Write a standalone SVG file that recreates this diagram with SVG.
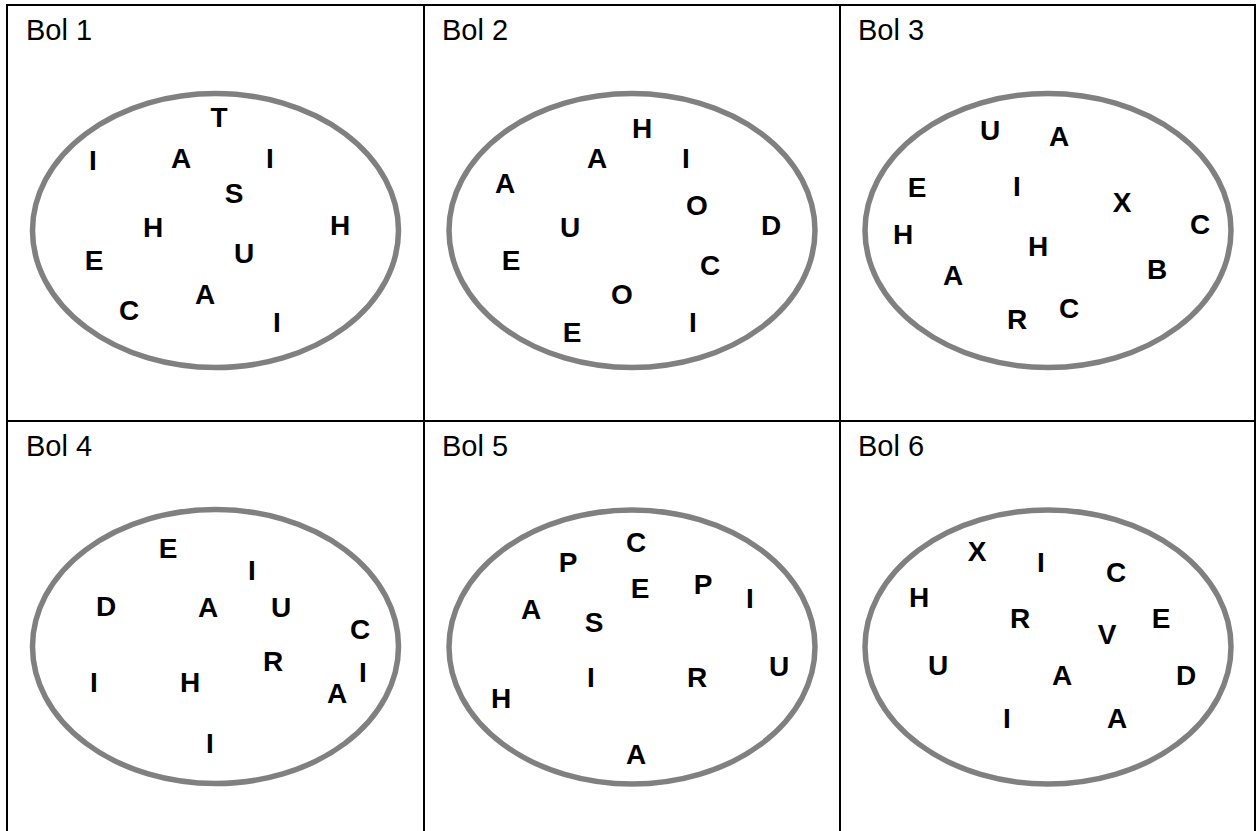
<svg xmlns="http://www.w3.org/2000/svg" width="1256" height="831" viewBox="0 0 1256 831">
<style>
.grid{stroke:#000;stroke-width:2;fill:none}
.bag{fill:none;stroke:#808080;stroke-width:5.5}
.lbl{font-family:"Liberation Sans",Arial,sans-serif;font-size:29px;fill:#000}
.ch{font-family:"Liberation Sans",Arial,sans-serif;font-size:28px;font-weight:bold;fill:#000;text-anchor:middle}
</style>
<rect width="1256" height="831" fill="#fff"/>
<g id="grid">
<line class="grid" x1="6" y1="5" x2="1256" y2="5"/>
<line class="grid" x1="7" y1="421" x2="1255" y2="421"/>
<line class="grid" x1="7" y1="4" x2="7" y2="831"/>
<line class="grid" x1="424" y1="5" x2="424" y2="831"/>
<line class="grid" x1="840" y1="5" x2="840" y2="831"/>
<line class="grid" x1="1255" y1="4" x2="1255" y2="831"/>
</g>
<g id="bol1">
<text class="lbl" x="26" y="40">Bol 1</text>
<ellipse class="bag" cx="215.5" cy="230.5" rx="183" ry="137"/>
<text class="ch" x="219" y="126.5">T</text>
<text class="ch" x="93" y="170">I</text>
<text class="ch" x="181" y="168">A</text>
<text class="ch" x="270" y="168">I</text>
<text class="ch" x="234" y="202.5">S</text>
<text class="ch" x="153" y="236.5">H</text>
<text class="ch" x="340" y="234.5">H</text>
<text class="ch" x="94" y="270">E</text>
<text class="ch" x="244" y="262.5">U</text>
<text class="ch" x="205" y="304">A</text>
<text class="ch" x="129" y="320">C</text>
<text class="ch" x="277" y="332">I</text>
</g>
<g id="bol2">
<text class="lbl" x="442" y="40">Bol 2</text>
<ellipse class="bag" cx="632" cy="230.5" rx="183" ry="137"/>
<text class="ch" x="642" y="137.5">H</text>
<text class="ch" x="597" y="168">A</text>
<text class="ch" x="686" y="168">I</text>
<text class="ch" x="505" y="193">A</text>
<text class="ch" x="697" y="215">O</text>
<text class="ch" x="771" y="235">D</text>
<text class="ch" x="570" y="237">U</text>
<text class="ch" x="511" y="270">E</text>
<text class="ch" x="710" y="275">C</text>
<text class="ch" x="622" y="304">O</text>
<text class="ch" x="572" y="341.5">E</text>
<text class="ch" x="693" y="331.5">I</text>
</g>
<g id="bol3">
<text class="lbl" x="858" y="40">Bol 3</text>
<ellipse class="bag" cx="1048" cy="230.5" rx="183" ry="137"/>
<text class="ch" x="990" y="140">U</text>
<text class="ch" x="1059" y="145.5">A</text>
<text class="ch" x="917" y="196.5">E</text>
<text class="ch" x="1017" y="196">I</text>
<text class="ch" x="1122" y="211.5">X</text>
<text class="ch" x="1200" y="234">C</text>
<text class="ch" x="903" y="244">H</text>
<text class="ch" x="1038" y="256">H</text>
<text class="ch" x="953" y="285">A</text>
<text class="ch" x="1157" y="279">B</text>
<text class="ch" x="1069" y="318">C</text>
<text class="ch" x="1017" y="329">R</text>
</g>
<g id="bol4">
<text class="lbl" x="26" y="456">Bol 4</text>
<ellipse class="bag" cx="215.5" cy="646.5" rx="183" ry="137"/>
<text class="ch" x="168" y="558">E</text>
<text class="ch" x="252" y="580">I</text>
<text class="ch" x="106" y="616">D</text>
<text class="ch" x="208" y="616.5">A</text>
<text class="ch" x="281" y="616.5">U</text>
<text class="ch" x="360" y="639">C</text>
<text class="ch" x="273" y="670.5">R</text>
<text class="ch" x="363" y="681.5">I</text>
<text class="ch" x="94" y="691.5">I</text>
<text class="ch" x="190" y="691.5">H</text>
<text class="ch" x="337" y="703">A</text>
<text class="ch" x="210" y="752.5">I</text>
</g>
<g id="bol5">
<text class="lbl" x="442" y="456">Bol 5</text>
<ellipse class="bag" cx="632" cy="647" rx="183" ry="137"/>
<text class="ch" x="636" y="551.5">C</text>
<text class="ch" x="568" y="572">P</text>
<text class="ch" x="640" y="598">E</text>
<text class="ch" x="703" y="594">P</text>
<text class="ch" x="750" y="608">I</text>
<text class="ch" x="531" y="619">A</text>
<text class="ch" x="594" y="631.5">S</text>
<text class="ch" x="779" y="675.5">U</text>
<text class="ch" x="591" y="686.5">I</text>
<text class="ch" x="697" y="686.5">R</text>
<text class="ch" x="501" y="708">H</text>
<text class="ch" x="636" y="764">A</text>
</g>
<g id="bol6">
<text class="lbl" x="858" y="456">Bol 6</text>
<ellipse class="bag" cx="1048" cy="647" rx="183" ry="137"/>
<text class="ch" x="977" y="560.5">X</text>
<text class="ch" x="1041" y="571.5">I</text>
<text class="ch" x="1116" y="582">C</text>
<text class="ch" x="919" y="606.5">H</text>
<text class="ch" x="1020" y="628">R</text>
<text class="ch" x="1161" y="627.5">E</text>
<text class="ch" x="1107" y="644">V</text>
<text class="ch" x="938" y="675">U</text>
<text class="ch" x="1062" y="685">A</text>
<text class="ch" x="1186" y="685">D</text>
<text class="ch" x="1007" y="728">I</text>
<text class="ch" x="1117" y="728">A</text>
</g>
</svg>
